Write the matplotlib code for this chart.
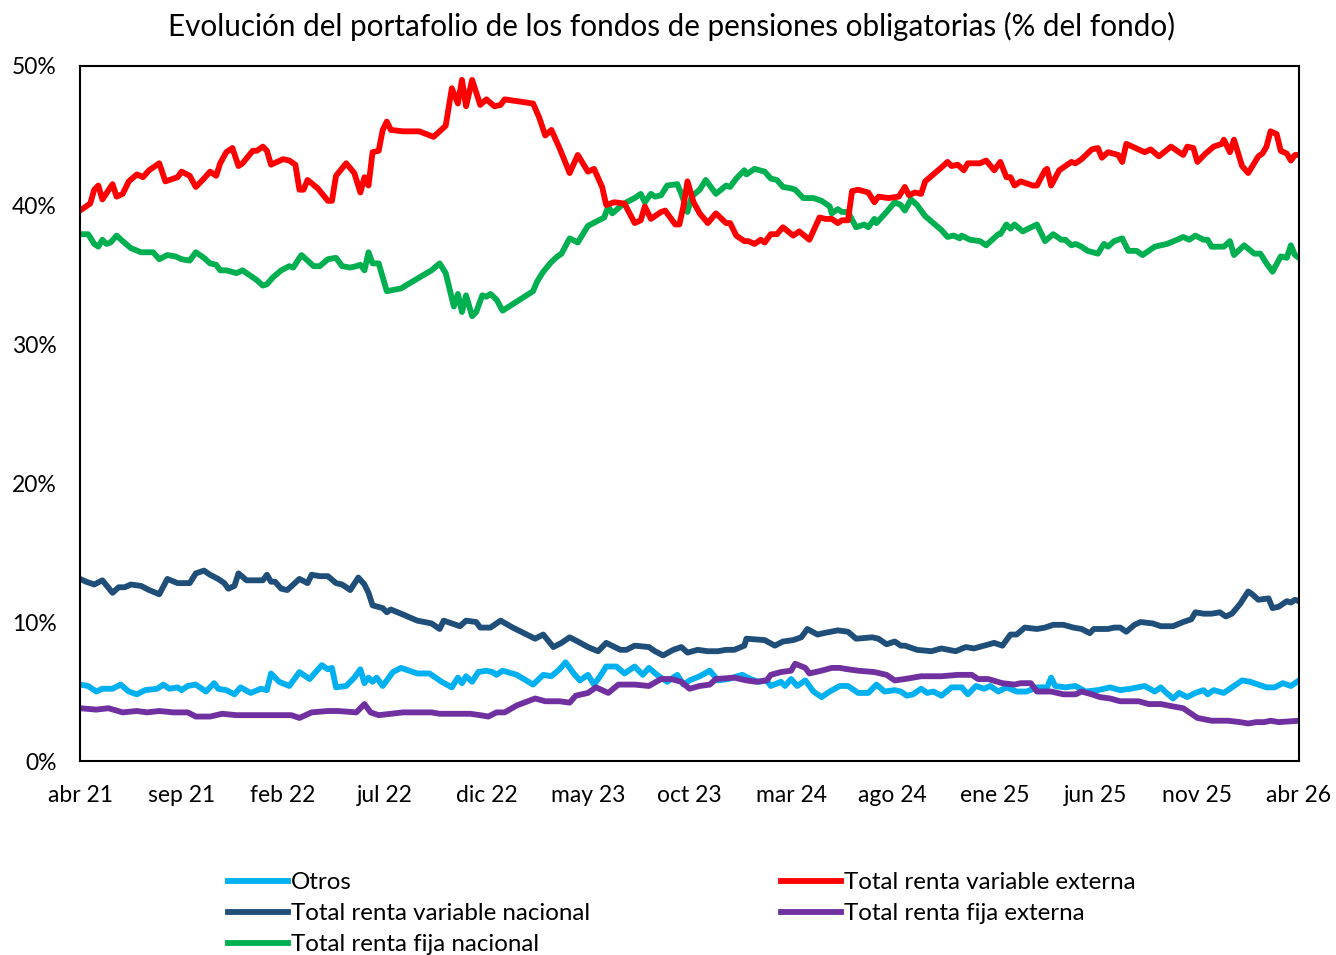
import matplotlib
matplotlib.use("Agg")
import matplotlib.pyplot as plt
from matplotlib.ticker import FuncFormatter

# meses transcurridos desde abr 21, participación en % del fondo
otros = [
    (0.0, 5.5), (0.4, 5.4), (0.8, 5.0), (1.1, 5.2), (1.6, 5.2), (2.0, 5.5), (2.4, 5.0), (2.8, 4.8), (3.2, 5.1), (3.8, 5.2),
    (4.1, 5.5), (4.4, 5.2), (4.8, 5.3), (5.0, 5.1), (5.3, 5.4), (5.7, 5.5), (6.2, 5.0), (6.6, 5.6), (6.8, 5.2), (7.2, 5.1),
    (7.6, 4.8), (7.9, 5.3), (8.4, 4.9), (8.9, 5.2), (9.2, 5.1), (9.4, 6.3), (9.8, 5.7), (10.3, 5.4), (10.8, 6.4), (11.3, 5.9),
    (11.9, 6.9), (12.2, 6.6), (12.4, 6.7), (12.6, 5.3), (13.1, 5.4), (13.5, 6.0), (13.8, 6.6), (14.0, 5.6), (14.2, 6.0), (14.4, 5.7),
    (14.6, 6.0), (14.9, 5.4), (15.4, 6.4), (15.8, 6.7), (16.6, 6.3), (17.2, 6.3), (17.8, 5.7), (18.3, 5.3), (18.6, 6.0), (18.8, 5.6),
    (19.0, 6.1), (19.3, 5.7), (19.6, 6.4), (20.0, 6.5), (20.3, 6.4), (20.5, 6.2), (20.8, 6.5), (21.5, 6.2), (22.3, 5.5), (22.8, 6.2),
    (23.2, 6.1), (23.6, 6.6), (23.9, 7.1), (24.3, 6.3), (24.6, 5.8), (25.0, 6.2), (25.3, 5.5), (25.6, 6.1), (25.9, 6.8), (26.4, 6.8),
    (26.8, 6.3), (27.3, 6.8), (27.7, 6.2), (28.0, 6.7), (28.4, 6.2), (28.9, 5.7), (29.4, 6.2), (29.7, 5.5), (30.0, 5.8), (30.5, 6.1),
    (31.0, 6.5), (31.4, 5.8), (31.9, 5.9), (32.6, 6.2), (33.0, 5.9), (33.4, 5.7), (33.8, 5.8), (34.0, 5.4), (34.5, 5.7), (34.7, 5.4),
    (35.0, 5.9), (35.3, 5.4), (35.7, 5.8), (36.1, 5.0), (36.5, 4.6), (36.9, 5.0), (37.4, 5.4), (37.8, 5.4), (38.3, 4.9), (38.8, 4.9),
    (39.2, 5.5), (39.6, 5.0), (40.1, 5.1), (40.4, 5.0), (40.7, 4.7), (41.0, 4.8), (41.4, 5.2), (41.7, 4.9), (42.0, 5.0), (42.4, 4.7),
    (42.9, 5.3), (43.4, 5.3), (43.7, 4.8), (44.1, 5.4), (44.5, 5.2), (44.8, 5.4), (45.2, 5.0), (45.6, 5.3), (46.1, 5.0), (46.6, 5.0),
    (47.1, 5.3), (47.6, 5.3), (47.8, 6.0), (48.0, 5.4), (48.5, 5.3), (49.0, 5.4), (49.5, 5.0), (50.1, 5.1), (50.7, 5.3), (51.2, 5.1),
    (51.7, 5.2), (52.4, 5.4), (52.9, 5.0), (53.2, 5.3), (53.4, 5.0), (53.8, 4.5), (54.1, 4.9), (54.5, 4.6), (54.9, 4.9), (55.3, 5.1),
    (55.5, 4.8), (55.8, 5.1), (56.3, 4.9), (56.7, 5.3), (57.2, 5.8), (57.6, 5.7), (58.0, 5.5), (58.4, 5.3), (58.8, 5.3), (59.2, 5.6),
    (59.6, 5.4), (60.0, 5.8),
]

rv_nacional = [
    (0.0, 13.1), (0.3, 12.9), (0.7, 12.7), (1.1, 13.0), (1.6, 12.1), (1.9, 12.5), (2.2, 12.5), (2.5, 12.7), (3.0, 12.6), (3.4, 12.3),
    (3.9, 12.0), (4.3, 13.1), (4.8, 12.8), (5.2, 12.8), (5.4, 12.8), (5.7, 13.5), (6.1, 13.7), (6.4, 13.4), (6.8, 13.1), (7.1, 12.8),
    (7.3, 12.4), (7.6, 12.6), (7.8, 13.5), (8.2, 13.0), (8.6, 13.0), (9.0, 13.0), (9.2, 13.4), (9.4, 12.9), (9.6, 12.9), (9.9, 12.4),
    (10.2, 12.3), (10.5, 12.7), (10.8, 13.1), (11.2, 12.8), (11.4, 13.4), (11.8, 13.3), (12.2, 13.3), (12.6, 12.8), (12.9, 12.7), (13.3, 12.3),
    (13.7, 13.2), (14.0, 12.7), (14.2, 12.1), (14.4, 11.2), (14.9, 11.0), (15.1, 10.7), (15.3, 10.9), (15.8, 10.6), (16.6, 10.1), (17.3, 9.9),
    (17.7, 9.5), (17.9, 10.1), (18.3, 9.9), (18.7, 9.7), (19.0, 10.1), (19.5, 10.0), (19.7, 9.6), (20.2, 9.6), (20.7, 10.1), (21.3, 9.6),
    (22.4, 8.8), (22.8, 9.1), (23.3, 8.2), (23.7, 8.5), (24.1, 8.9), (24.5, 8.6), (25.0, 8.2), (25.5, 7.9), (25.9, 8.5), (26.6, 8.0),
    (26.9, 8.0), (27.3, 8.3), (28.0, 8.2), (28.3, 7.9), (28.7, 7.6), (29.2, 8.0), (29.6, 8.2), (29.9, 7.8), (30.4, 8.0), (30.9, 7.9),
    (31.4, 7.9), (31.8, 8.0), (32.2, 8.0), (32.7, 8.3), (32.8, 8.8), (33.7, 8.7), (34.2, 8.3), (34.6, 8.6), (35.1, 8.7), (35.5, 8.9),
    (35.8, 9.5), (36.3, 9.1), (36.6, 9.2), (37.3, 9.4), (37.8, 9.3), (38.2, 8.8), (39.0, 8.9), (39.3, 8.8), (39.7, 8.4), (40.1, 8.6),
    (40.4, 8.3), (40.6, 8.3), (41.2, 8.0), (41.9, 7.9), (42.4, 8.1), (43.1, 7.9), (43.6, 8.2), (44.0, 8.1), (44.5, 8.3), (45.0, 8.5),
    (45.4, 8.3), (45.8, 9.1), (46.1, 9.1), (46.5, 9.6), (47.1, 9.5), (47.5, 9.6), (47.9, 9.8), (48.4, 9.8), (48.9, 9.6), (49.3, 9.5),
    (49.7, 9.2), (49.9, 9.5), (50.6, 9.5), (50.9, 9.6), (51.2, 9.6), (51.5, 9.3), (51.9, 9.8), (52.2, 10.0), (52.8, 9.9), (53.2, 9.7),
    (53.8, 9.7), (54.3, 10.0), (54.7, 10.2), (54.9, 10.7), (55.3, 10.6), (55.7, 10.6), (56.1, 10.7), (56.4, 10.4), (56.7, 10.6), (57.1, 11.3),
    (57.5, 12.2), (57.7, 12.0), (58.0, 11.6), (58.5, 11.7), (58.7, 11.0), (59.0, 11.1), (59.4, 11.5), (59.6, 11.4), (59.8, 11.6), (60.0, 11.5),
]

rf_nacional = [
    (0.0, 37.9), (0.4, 37.9), (0.7, 37.2), (0.9, 37.0), (1.1, 37.5), (1.3, 37.2), (1.5, 37.3), (1.8, 37.8), (2.1, 37.4), (2.5, 36.9),
    (3.0, 36.6), (3.4, 36.6), (3.6, 36.6), (3.9, 36.1), (4.3, 36.4), (4.7, 36.3), (5.0, 36.1), (5.4, 36.0), (5.7, 36.6), (6.1, 36.2),
    (6.4, 35.8), (6.7, 35.7), (6.9, 35.3), (7.2, 35.3), (7.7, 35.1), (8.0, 35.3), (8.5, 34.8), (8.7, 34.6), (9.0, 34.2), (9.2, 34.3),
    (9.5, 34.8), (9.9, 35.3), (10.3, 35.6), (10.5, 35.5), (10.8, 36.2), (10.9, 36.4), (11.2, 36.0), (11.5, 35.6), (11.8, 35.6), (12.2, 36.1),
    (12.6, 36.2), (12.9, 35.6), (13.3, 35.5), (13.6, 35.6), (13.8, 35.7), (14.0, 35.3), (14.2, 36.6), (14.4, 35.8), (14.7, 35.8), (15.1, 33.8),
    (15.8, 34.0), (16.6, 34.7), (17.3, 35.3), (17.7, 35.8), (18.0, 35.1), (18.4, 32.7), (18.6, 33.6), (18.8, 32.3), (19.0, 33.5), (19.3, 32.0),
    (19.5, 32.3), (19.8, 33.5), (20.0, 33.4), (20.2, 33.6), (20.5, 33.2), (20.8, 32.4), (22.3, 33.8), (22.5, 34.5), (22.8, 35.2), (23.2, 35.9),
    (23.5, 36.3), (23.7, 36.5), (24.1, 37.6), (24.5, 37.3), (25.0, 38.5), (25.4, 38.8), (25.8, 39.1), (26.0, 39.9), (26.2, 39.4), (26.6, 39.9),
    (26.9, 40.2), (27.3, 40.5), (27.6, 40.8), (27.8, 40.2), (28.1, 40.8), (28.3, 40.6), (28.6, 40.7), (28.9, 41.4), (29.4, 41.5), (29.6, 40.8),
    (29.9, 39.5), (30.1, 40.6), (30.5, 41.1), (30.8, 41.8), (31.3, 40.8), (31.8, 41.4), (32.0, 41.3), (32.3, 41.9), (32.7, 42.5), (32.8, 42.2),
    (33.2, 42.6), (33.7, 42.4), (34.0, 41.9), (34.3, 41.8), (34.6, 41.3), (35.0, 41.2), (35.2, 41.1), (35.6, 40.5), (36.1, 40.5), (36.5, 40.3),
    (36.9, 39.9), (37.0, 39.4), (37.3, 39.7), (37.5, 39.5), (37.8, 39.5), (38.2, 38.4), (38.6, 38.6), (38.8, 38.4), (39.1, 39.0), (39.2, 38.7),
    (39.7, 39.5), (40.1, 40.2), (40.4, 40.0), (40.6, 39.6), (40.9, 40.4), (41.2, 40.0), (41.6, 39.2), (42.0, 38.7), (42.4, 38.2), (42.7, 37.7),
    (43.0, 37.8), (43.3, 37.6), (43.4, 37.8), (43.8, 37.5), (44.3, 37.4), (44.6, 37.1), (44.9, 37.5), (45.2, 37.9), (45.3, 37.9), (45.6, 38.6),
    (45.8, 38.3), (46.0, 38.6), (46.4, 38.1), (47.1, 38.6), (47.5, 37.4), (47.9, 37.9), (48.3, 37.5), (48.5, 37.5), (48.8, 37.1), (49.0, 37.2),
    (49.3, 37.0), (49.6, 36.7), (50.1, 36.5), (50.4, 37.2), (50.6, 37.0), (50.9, 37.4), (51.3, 37.6), (51.6, 36.7), (52.0, 36.7), (52.3, 36.4),
    (52.9, 37.0), (53.5, 37.2), (54.0, 37.5), (54.3, 37.7), (54.6, 37.5), (54.9, 37.8), (55.3, 37.5), (55.5, 37.5), (55.7, 37.0), (56.3, 37.0),
    (56.6, 37.4), (56.8, 36.4), (57.3, 37.1), (57.8, 36.5), (58.1, 36.5), (58.4, 35.8), (58.7, 35.2), (59.1, 36.3), (59.4, 36.2), (59.6, 37.1),
    (59.8, 36.4), (60.0, 36.2),
]

rv_externa = [
    (0.0, 39.6), (0.5, 40.1), (0.7, 41.1), (0.9, 41.4), (1.1, 40.4), (1.6, 41.5), (1.8, 40.6), (2.1, 40.8), (2.4, 41.7), (2.8, 42.2),
    (3.1, 42.0), (3.4, 42.5), (3.9, 43.0), (4.2, 41.7), (4.4, 41.8), (4.8, 42.0), (5.0, 42.4), (5.4, 42.1), (5.7, 41.3), (6.1, 41.9),
    (6.4, 42.4), (6.7, 42.1), (6.9, 43.0), (7.2, 43.8), (7.5, 44.1), (7.8, 42.8), (8.0, 43.0), (8.5, 43.9), (8.7, 43.9), (9.0, 44.2),
    (9.2, 43.9), (9.4, 42.9), (10.0, 43.3), (10.3, 43.2), (10.6, 42.9), (10.8, 41.1), (11.0, 41.1), (11.2, 41.8), (11.7, 41.2), (12.2, 40.3),
    (12.4, 40.3), (12.6, 42.1), (13.1, 43.0), (13.5, 42.3), (13.8, 40.9), (14.0, 42.0), (14.2, 41.4), (14.4, 43.8), (14.7, 43.9), (14.9, 45.4),
    (15.1, 46.0), (15.3, 45.4), (15.9, 45.3), (16.7, 45.3), (17.4, 44.9), (18.0, 45.7), (18.3, 48.4), (18.6, 47.3), (18.8, 49.0), (19.0, 47.1),
    (19.3, 49.0), (19.7, 47.2), (20.0, 47.6), (20.4, 47.1), (20.7, 47.2), (20.9, 47.6), (22.3, 47.3), (22.6, 46.3), (22.9, 45.0), (23.2, 45.4),
    (23.6, 44.1), (24.1, 42.3), (24.5, 43.6), (25.0, 42.4), (25.3, 42.6), (25.7, 41.3), (25.9, 40.0), (26.3, 40.2), (26.8, 40.1), (27.3, 38.7),
    (27.6, 38.9), (27.8, 39.9), (28.1, 39.0), (28.6, 39.5), (28.8, 39.6), (29.3, 38.6), (29.5, 38.6), (29.7, 39.9), (29.9, 41.7), (30.2, 40.2),
    (30.5, 39.4), (30.9, 38.7), (31.3, 39.4), (31.8, 38.7), (32.0, 38.7), (32.3, 37.8), (32.7, 37.4), (32.9, 37.4), (33.2, 37.2), (33.5, 37.5),
    (33.7, 37.3), (34.0, 37.9), (34.3, 37.9), (34.6, 38.4), (35.1, 37.8), (35.4, 38.1), (35.9, 37.5), (36.4, 39.1), (36.7, 39.0), (37.0, 39.0),
    (37.3, 38.7), (37.5, 38.9), (37.8, 38.9), (38.0, 41.0), (38.3, 41.1), (38.8, 40.9), (39.1, 40.2), (39.3, 40.6), (39.8, 40.5), (40.3, 40.6),
    (40.6, 41.3), (40.8, 40.7), (41.1, 40.9), (41.4, 40.8), (41.6, 41.7), (42.0, 42.2), (42.4, 42.7), (42.7, 43.1), (42.9, 42.8), (43.2, 42.9),
    (43.5, 42.5), (43.7, 43.0), (44.3, 43.0), (44.6, 43.2), (45.0, 42.5), (45.3, 43.1), (45.6, 42.0), (45.8, 42.0), (46.0, 41.4), (46.3, 41.7),
    (46.9, 41.4), (47.1, 41.4), (47.5, 42.5), (47.6, 42.6), (47.8, 41.4), (48.2, 42.5), (48.4, 42.7), (48.8, 43.1), (49.0, 43.0), (49.3, 43.3),
    (49.8, 44.0), (50.1, 44.1), (50.3, 43.4), (50.6, 43.8), (51.1, 43.6), (51.3, 43.1), (51.5, 44.4), (52.1, 44.0), (52.4, 43.8), (52.7, 44.0),
    (53.1, 43.5), (53.7, 44.2), (54.0, 43.9), (54.3, 43.6), (54.5, 44.2), (54.8, 44.1), (55.0, 43.1), (55.4, 43.7), (55.8, 44.2), (56.2, 44.4),
    (56.3, 44.7), (56.6, 43.8), (56.8, 44.7), (57.2, 42.8), (57.5, 42.3), (58.0, 43.5), (58.2, 43.7), (58.4, 44.2), (58.6, 45.3), (58.9, 45.1),
    (59.1, 43.9), (59.4, 43.7), (59.6, 43.2), (59.8, 43.6), (60.0, 43.6),
]

rf_externa = [
    (0.0, 3.8), (0.8, 3.7), (1.4, 3.8), (2.1, 3.5), (2.8, 3.6), (3.3, 3.5), (3.9, 3.6), (4.6, 3.5), (5.3, 3.5), (5.7, 3.2),
    (6.4, 3.2), (7.0, 3.4), (7.7, 3.3), (8.5, 3.3), (9.2, 3.3), (9.9, 3.3), (10.4, 3.3), (10.8, 3.1), (11.4, 3.5), (12.2, 3.6),
    (12.7, 3.6), (13.6, 3.5), (14.0, 4.1), (14.3, 3.5), (14.7, 3.3), (15.3, 3.4), (15.9, 3.5), (17.3, 3.5), (17.7, 3.4), (18.4, 3.4),
    (19.2, 3.4), (19.7, 3.3), (20.1, 3.2), (20.5, 3.5), (20.9, 3.5), (21.5, 4.0), (22.4, 4.5), (22.9, 4.3), (23.6, 4.3), (24.1, 4.2),
    (24.4, 4.7), (25.0, 4.9), (25.4, 5.3), (26.0, 4.9), (26.5, 5.5), (27.3, 5.5), (28.0, 5.4), (28.6, 5.9), (29.1, 5.9), (29.6, 5.7),
    (30.0, 5.2), (30.5, 5.4), (31.0, 5.5), (31.3, 5.9), (32.2, 6.0), (32.8, 5.8), (33.3, 5.7), (33.8, 5.8), (34.0, 6.2), (34.5, 6.4),
    (35.0, 6.5), (35.2, 7.0), (35.7, 6.7), (35.9, 6.3), (36.5, 6.5), (37.0, 6.7), (37.4, 6.7), (37.8, 6.6), (38.3, 6.5), (39.1, 6.4),
    (39.7, 6.2), (40.1, 5.8), (40.6, 5.9), (41.4, 6.1), (42.4, 6.1), (43.2, 6.2), (43.9, 6.2), (44.2, 5.9), (44.7, 5.9), (45.4, 5.6),
    (46.0, 5.5), (46.3, 5.6), (46.8, 5.6), (47.1, 5.0), (47.8, 5.0), (48.4, 4.8), (49.0, 4.8), (49.3, 5.0), (49.8, 4.8), (50.2, 4.6),
    (50.7, 4.5), (51.2, 4.3), (52.1, 4.3), (52.6, 4.1), (53.2, 4.1), (53.9, 3.9), (54.3, 3.8), (54.7, 3.4), (55.0, 3.1), (55.7, 2.9),
    (56.5, 2.9), (57.1, 2.8), (57.5, 2.7), (57.9, 2.8), (58.3, 2.8), (58.6, 2.9), (59.0, 2.8), (60.0, 2.9),
]

etiquetas_x = ["abr 21", "sep 21", "feb 22", "jul 22", "dic 22", "may 23",
               "oct 23", "mar 24", "ago 24", "ene 25", "jun 25", "nov 25", "abr 26"]

series = [
    ("Otros", otros, "#00B0F0"),
    ("Total renta variable nacional", rv_nacional, "#1F4E79"),
    ("Total renta fija nacional", rf_nacional, "#00B050"),
    ("Total renta variable externa", rv_externa, "#FF0000"),
    ("Total renta fija externa", rf_externa, "#7030A0"),
]

plt.rcParams["font.family"] = ["Lato", "DejaVu Sans"]

fig = plt.figure(figsize=(13.36, 9.55), dpi=100)
ax = fig.add_axes([0.0599, 0.2031, 0.9124, 0.7278])

for nombre, datos, color in series:
    t, v = zip(*datos)
    ax.plot(t, v, color=color, lw=4.2, label=nombre, solid_joinstyle="round")

ax.set_xlim(0, 60)
ax.set_ylim(0, 50)
ax.set_xticks(range(0, 61, 5))
ax.set_xticklabels(etiquetas_x)
ax.set_yticks(range(0, 51, 10))
ax.yaxis.set_major_formatter(FuncFormatter(lambda y, _: f"{y:.0f}%"))
ax.tick_params(axis="both", length=0, labelsize=16.5)
ax.tick_params(axis="y", pad=17)
ax.tick_params(axis="x", pad=17)
for s in ax.spines.values():
    s.set_linewidth(1.5)

fig.suptitle("Evolución del portafolio de los fondos de pensiones obligatorias (% del fondo)",
             x=0.503, y=0.988, fontsize=21.3)

fig.legend(loc="upper left", bbox_to_anchor=(228 / 1336, 1 - 872 / 955), ncol=2,
           frameon=False, fontsize=17.4, handlelength=2.5, handletextpad=0.1,
           columnspacing=7.9, labelspacing=0.42, borderpad=0, borderaxespad=0)

fig.savefig("out.png", dpi=100)
